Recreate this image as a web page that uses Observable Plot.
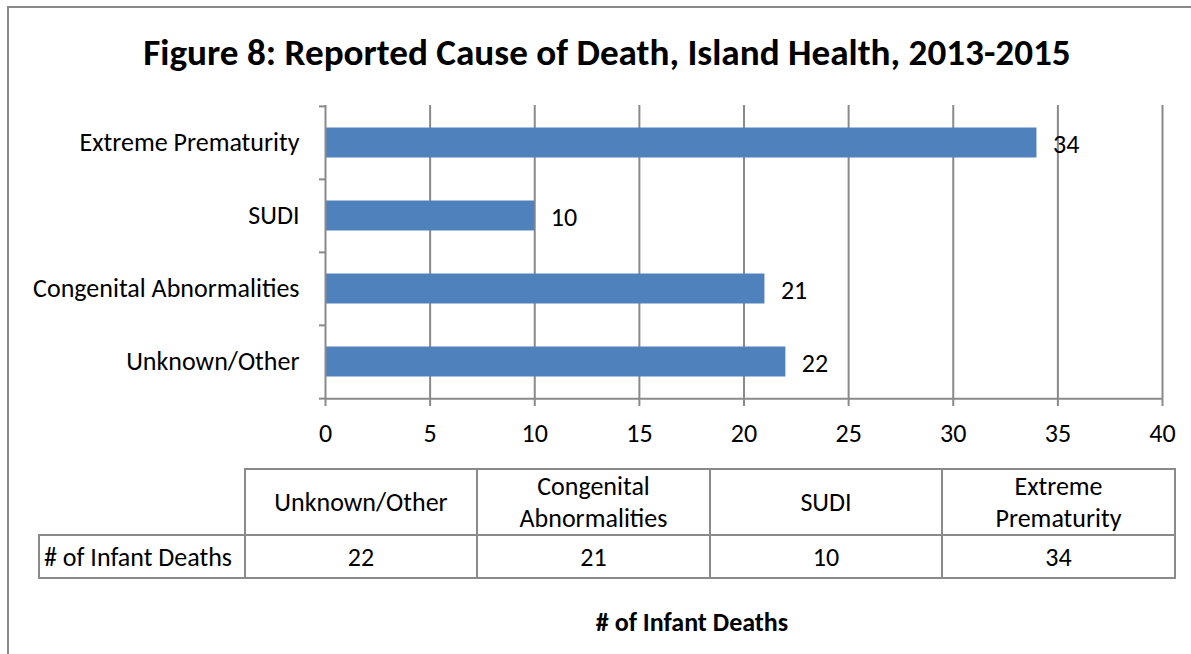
<!DOCTYPE html>
<html>
<head>
<meta charset="utf-8">
<script src="https://cdn.jsdelivr.net/npm/d3@7"></script>
<script src="https://cdn.jsdelivr.net/npm/@observablehq/plot@0.6"></script>
<style>
  html, body { margin: 0; padding: 0; background: #fff; }
  #wrap { position: relative; width: 1191px; height: 654px; overflow: hidden; background: #fff;
          font-family: Carlito, Calibri, Lato, "Open Sans", sans-serif; color: #000; }
  #frame { position: absolute; left: 7px; top: 6px; right: -10px; bottom: -10px;
           border-left: 2px solid #8a8a8a; border-top: 2px solid #8a8a8a; }
  #title { position: absolute; left: 0; width: 1214px; top: 31px; line-height: 44px; text-align: center;
           font-size: 37.2px; font-weight: bold; white-space: nowrap; }
  #chart { position: absolute; left: 0; top: 0; }
  #tbl { position: absolute; left: 38px; top: 468px; border-collapse: collapse; font-size: 26px; }
  #tbl td { border: 2px solid #8a8a8a; text-align: center; padding: 0; line-height: 32px; white-space: nowrap; }
  #tbl td.blank { border: none; }
  #xtitle { position: absolute; left: 0; width: 1384px; top: 606px; line-height: 32px; text-align: center;
            font-size: 26px; font-weight: bold; }
</style>
</head>
<body>
<div id="wrap">
  <div id="frame"></div>
  <div id="title"></div>
  <div id="chart"></div>
  <table id="tbl"></table>
  <div id="xtitle"></div>
</div>
<script>
const titleText = "Figure 8: Reported Cause of Death, Island Health, 2013-2015";
const axisTitle = "# of Infant Deaths";
const categories = ["Unknown/Other", "Congenital Abnormalities", "SUDI", "Extreme Prematurity"];
const tableHeaders = ["Unknown/Other", "Congenital<br>Abnormalities", "SUDI", "Extreme<br>Prematurity"];
const values = [22, 21, 10, 34];
const xTicks = [0, 5, 10, 15, 20, 25, 30, 35, 40];
const gridTicks = [5, 10, 15, 20, 25, 30, 35, 40];

const data = categories.map((c, i) => ({category: c, value: values[i]}));

document.getElementById("title").textContent = titleText;
document.getElementById("xtitle").textContent = axisTitle;

const W = 1191, H = 450, mT = 105, mB = 52, mL = 325, mR = 29;
const step = (H - mT - mB) / categories.length;
const gray = "#8a8a8a";
const font = "Carlito, Calibri, Lato, 'Open Sans', sans-serif";
const tickLenX = 6 / ((W - mL - mR) / 40);

const chart = Plot.plot({
  width: W, height: H,
  marginTop: mT, marginBottom: mB, marginLeft: mL, marginRight: mR,
  style: {fontFamily: font, fontSize: "26px", color: "#000", background: "transparent", overflow: "visible"},
  x: {domain: [0, 40], ticks: xTicks},
  y: {domain: categories.slice().reverse(), padding: 0},
  marks: [
    Plot.ruleX(gridTicks, {stroke: gray, strokeWidth: 2, strokeOpacity: 1}),
    Plot.barX(data, {x: "value", y: "category", fill: "#4F81BD", insetTop: 21.5, insetBottom: 21.5}),
    Plot.text(data, {x: "value", y: "category", text: d => String(d.value), textAnchor: "start", dx: 16, dy: 2, fontSize: 26, fill: "#000"}),
    // y axis tick marks at band boundaries
    Plot.ruleY(categories, {y: d => d, dy: -step / 2, x1: 0, x2: -tickLenX, stroke: gray, strokeWidth: 2}),
    Plot.ruleY([categories[0]], {y: d => d, dy: step / 2, x1: 0, x2: -tickLenX, stroke: gray, strokeWidth: 2}),
    Plot.ruleX([0], {stroke: gray, strokeWidth: 2}),
    Plot.ruleY([0], {y: () => categories[0], dy: step / 2, x1: 0, x2: 40, stroke: gray, strokeWidth: 2}),
    Plot.axisY({tickSize: 0, tickPadding: 26, fontSize: 26, label: null}),
    Plot.axisX({ticks: xTicks, tickSize: 8, tickPadding: 17, fontSize: 26, label: null, stroke: gray, strokeWidth: 2})
  ]
});
document.getElementById("chart").appendChild(chart);

// data table
const tbl = document.getElementById("tbl");
const colW = [205, 230, 231, 230, 231];
let r1 = "<tr style='height:65px'><td class='blank' style='width:" + colW[0] + "px'></td>" +
  tableHeaders.map((h, i) => "<td style='width:" + colW[i + 1] + "px'>" + h + "</td>").join("") + "</tr>";
let r2 = "<tr style='height:43px'><td style='text-align:left;padding-left:4px'>" + axisTitle + "</td>" +
  values.map(v => "<td>" + v + "</td>").join("") + "</tr>";
tbl.innerHTML = r1 + r2;
</script>
</body>
</html>
